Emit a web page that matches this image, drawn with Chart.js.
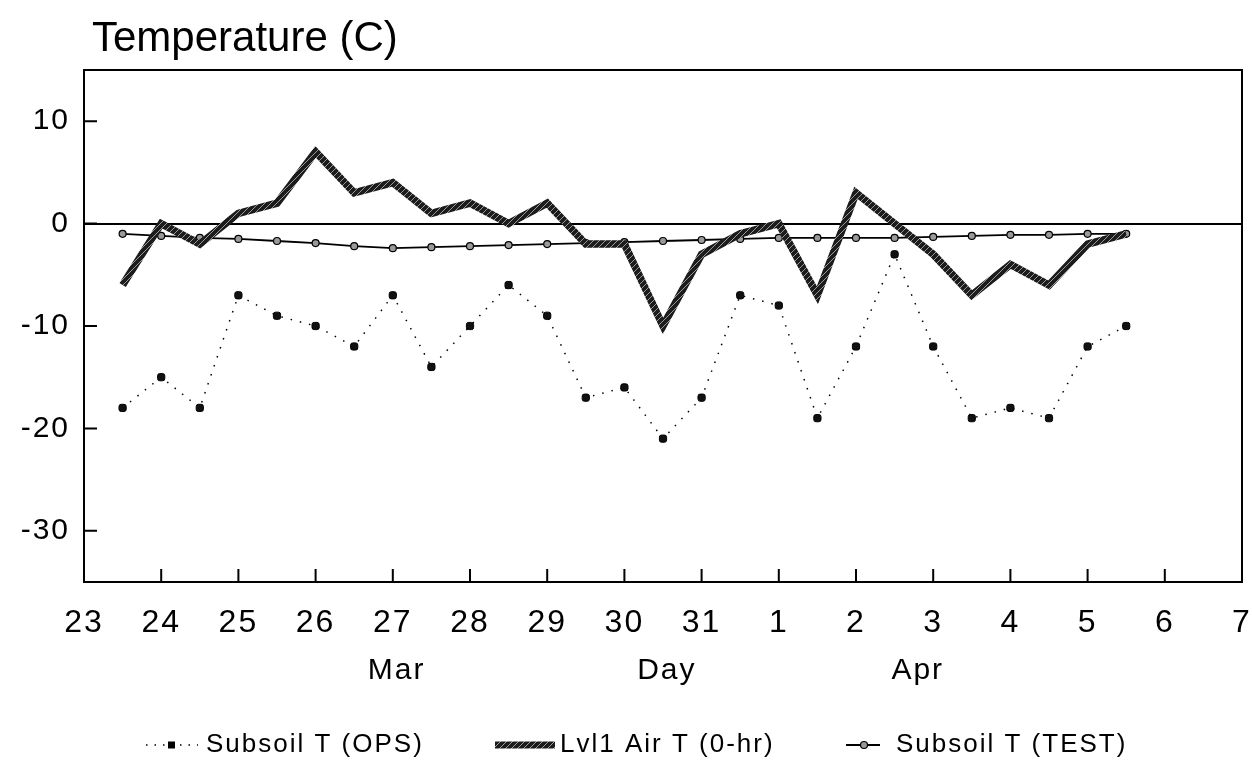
<!DOCTYPE html>
<html>
<head>
<meta charset="utf-8">
<title>Temperature (C)</title>
<script src="https://cdn.jsdelivr.net/npm/chart.js@4.4.0/dist/chart.umd.min.js"></script>
<style>
  html, body { margin: 0; padding: 0; background: #fff; }
  #wrap { width: 1252px; height: 762px; }
</style>
</head>
<body>
<div id="wrap"><canvas id="temp-chart" width="1252" height="762"></canvas></div>
<script>
// etiquetas del eje x (dias de marzo y abril)
const dayLabels = ['23', '24', '25', '26', '27', '28', '29', '30', '31', '1', '2', '3', '4', '5', '6', '7'];
// momento de cada observacion, en dias desde el 23 de marzo
const obsDays = [0.5, 1, 1.5, 2, 2.5, 3, 3.5, 4, 4.5, 5, 5.5, 6, 6.5, 7, 7.5, 8, 8.5, 9, 9.5, 10, 10.5, 11, 11.5, 12, 12.5, 13, 13.5];

const subsoilOps = [-18, -15, -18, -7, -9, -10, -12, -7, -14, -10, -6, -9, -17, -16, -21, -17, -7, -8, -19, -12, -3, -12, -19, -18, -19, -12, -10];
const airT = [-6, 0, -2, 1, 2, 7, 3, 4, 1, 2, 0, 2, -2, -2, -10, -3, -1, 0, -7, 3, 0, -3, -7, -4, -6, -2, -1];
const subsoilTest = [-1, -1.2, -1.4, -1.5, -1.7, -1.9, -2.2, -2.4, -2.3, -2.2, -2.1, -2, -1.9, -1.8, -1.7, -1.6, -1.5, -1.4, -1.4, -1.4, -1.4, -1.3, -1.2, -1.1, -1.1, -1, -1];

const yTicks = [-30, -20, -10, 0, 10];
const seriesNames = ['Subsoil T (OPS)', 'Lvl1 Air T (0-hr)', 'Subsoil T (TEST)'];

const FONT = "'Liberation Sans', Arial, sans-serif";

// junta dias y valores en puntos {x, y}
const toPoints = (values) => values.map((v, i) => ({ x: obsDays[i], y: v }));

// trama rayada para la linea gruesa
const makeHatch = () => {
  const c = document.createElement('canvas');
  c.width = 6;
  c.height = 6;
  const g = c.getContext('2d');
  g.fillStyle = '#1c1c1c';
  g.fillRect(0, 0, 6, 6);
  g.strokeStyle = '#9a9a9a';
  g.lineWidth = 1;
  g.beginPath();
  g.moveTo(0, 6);
  g.lineTo(6, 0);
  g.stroke();
  return g.createPattern(c, 'repeat');
};
const hatch = makeHatch();

// marco, marcas hacia dentro, titulo, etiquetas de mes y leyenda
const decorations = {
  id: 'decorations',
  beforeDraw(chart) {
    chart.ctx.letterSpacing = '2px';
  },
  afterDraw(chart) {
    const { ctx, chartArea: a, scales: { x, y } } = chart;
    ctx.save();
    ctx.strokeStyle = '#000';
    ctx.lineWidth = 2;
    ctx.strokeRect(a.left, a.top, a.right - a.left, a.bottom - a.top);

    ctx.beginPath();
    for (let d = 1; d < dayLabels.length - 1; d++) {
      const px = x.getPixelForValue(d);
      ctx.moveTo(px, a.bottom);
      ctx.lineTo(px, a.bottom - 13);
    }
    yTicks.forEach(v => {
      const py = y.getPixelForValue(v);
      ctx.moveTo(a.left, py);
      ctx.lineTo(a.left + 13, py);
    });
    ctx.stroke();

    ctx.fillStyle = '#000';
    ctx.textBaseline = 'alphabetic';
    ctx.textAlign = 'center';
    ctx.font = `30px ${FONT}`;
    ctx.fillText('Mar', x.getPixelForValue(4.05), 679);
    ctx.fillText('Day', x.getPixelForValue(7.55), 679);
    ctx.fillText('Apr', x.getPixelForValue(10.8), 679);

    // leyenda
    const ly = 745;
    const ds = chart.data.datasets;
    ctx.textAlign = 'left';
    ctx.font = `26px ${FONT}`;
    ctx.textBaseline = 'middle';

    ctx.lineWidth = 1.5;
    ctx.setLineDash([1.5, 7]);
    ctx.beginPath();
    ctx.moveTo(146, ly);
    ctx.lineTo(198, ly);
    ctx.stroke();
    ctx.setLineDash([]);
    ctx.fillRect(168, ly - 3.5, 7, 7);
    ctx.fillText(ds[0].label, 206, ly);

    ctx.strokeStyle = hatch;
    ctx.lineWidth = 7;
    ctx.beginPath();
    ctx.moveTo(495, ly);
    ctx.lineTo(555, ly);
    ctx.stroke();
    ctx.fillText(ds[1].label, 560, ly);

    ctx.strokeStyle = '#000';
    ctx.lineWidth = 2;
    ctx.beginPath();
    ctx.moveTo(846, ly);
    ctx.lineTo(880, ly);
    ctx.stroke();
    ctx.beginPath();
    ctx.arc(864, ly, 3.5, 0, Math.PI * 2);
    ctx.fillStyle = '#999';
    ctx.fill();
    ctx.lineWidth = 1.2;
    ctx.stroke();
    ctx.fillStyle = '#000';
    ctx.fillText(ds[2].label, 896, ly);

    ctx.letterSpacing = '0px';
    ctx.textBaseline = 'alphabetic';
    ctx.font = `42px ${FONT}`;
    ctx.fillText('Temperature (C)', 92, 51);
    ctx.restore();
  }
};

const config = {
  type: 'scatter',
  data: {
    datasets: [
      {
        label: seriesNames[0],
        data: toPoints(subsoilOps),
        showLine: true,
        borderColor: '#000',
        borderWidth: 1.5,
        borderDash: [1.5, 8],
        pointStyle: 'rectRounded',
        pointRadius: 4.2,
        pointBackgroundColor: '#111',
        pointBorderColor: '#000',
        pointBorderWidth: 1
      },
      {
        label: seriesNames[1],
        data: toPoints(airT),
        showLine: true,
        borderColor: hatch,
        borderWidth: 7.5,
        borderJoinStyle: 'miter',
        pointRadius: 0
      },
      {
        label: seriesNames[2],
        data: toPoints(subsoilTest),
        showLine: true,
        borderColor: '#000',
        borderWidth: 1.8,
        pointStyle: 'circle',
        pointRadius: 3.5,
        pointBackgroundColor: '#9a9a9a',
        pointBorderColor: '#000',
        pointBorderWidth: 1.2
      }
    ]
  },
  options: {
    responsive: false,
    maintainAspectRatio: false,
    devicePixelRatio: 1,
    animation: false,
    layout: { padding: { top: 70, right: 10, bottom: 120, left: 0 } },
    plugins: {
      legend: { display: false },
      tooltip: { enabled: false },
      title: { display: false }
    },
    scales: {
      x: {
        type: 'linear',
        min: 0,
        max: 15,
        afterFit: (scale) => {
          scale.height = 60;
          scale.paddingLeft = 0;
          scale.paddingRight = 0;
        },
        ticks: {
          stepSize: 1,
          autoSkip: false,
          maxRotation: 0,
          padding: 22,
          color: '#000',
          font: { family: FONT, size: 32 },
          callback: (v) => dayLabels[v]
        },
        grid: { display: false, drawTicks: false },
        border: { display: false }
      },
      y: {
        min: -35,
        max: 15,
        afterFit: (scale) => {
          scale.width = 84;
          scale.paddingTop = 0;
          scale.paddingBottom = 0;
        },
        afterBuildTicks: (scale) => { scale.ticks = yTicks.map(v => ({ value: v })); },
        ticks: {
          padding: 14,
          color: '#000',
          font: { family: FONT, size: 30 }
        },
        grid: {
          drawTicks: false,
          lineWidth: 2,
          color: (ctx) => (ctx.tick && ctx.tick.value === 0 ? '#000' : 'rgba(0,0,0,0)')
        },
        border: { display: false }
      }
    }
  },
  plugins: [decorations]
};

new Chart(document.querySelector('#temp-chart'), config);
</script>
</body>
</html>
